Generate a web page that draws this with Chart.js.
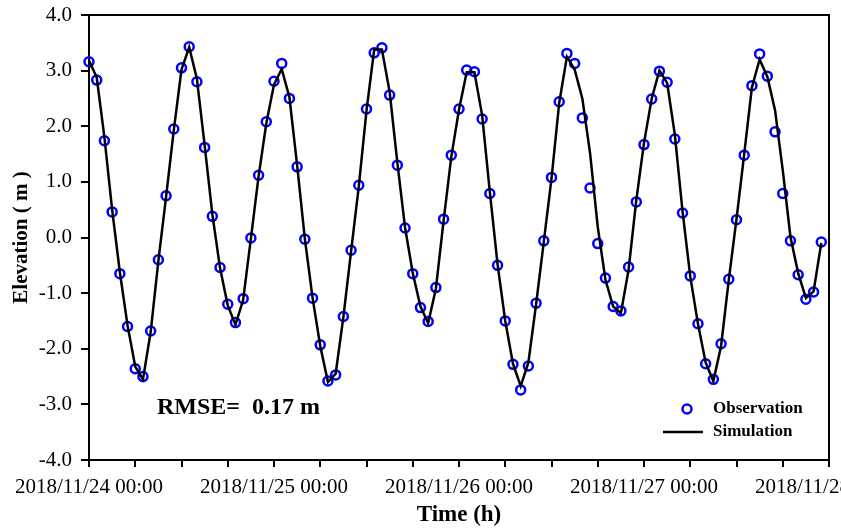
<!DOCTYPE html>
<html>
<head>
<meta charset="utf-8">
<script src="https://cdn.jsdelivr.net/npm/chart.js@4.4.1/dist/chart.umd.min.js"></script>
<style>
  body { margin: 0; background: #fff; }
  #wrap { width: 841px; height: 529px; }
</style>
</head>
<body>
<div id="wrap"><canvas id="myChart"></canvas></div>
<script>
// hourly data from 2018/11/24 00:00
let dayLabels = ['2018/11/24 00:00', '2018/11/25 00:00', '2018/11/26 00:00', '2018/11/27 00:00', '2018/11/28 00:00'];
let yTicks = [-4, -3, -2, -1, 0, 1, 2, 3, 4];

let observation = [
    3.16, 2.83, 1.74, 0.46, -0.65, -1.60, -2.36, -2.50, -1.68, -0.40,
    0.75, 1.95, 3.05, 3.43, 2.80, 1.62, 0.38, -0.54, -1.20, -1.53,
    -1.10, -0.01, 1.12, 2.08, 2.81, 3.13, 2.50, 1.27, -0.03, -1.09,
    -1.93, -2.58, -2.47, -1.42, -0.23, 0.94, 2.31, 3.32, 3.41, 2.56,
    1.30, 0.17, -0.65, -1.26, -1.51, -0.90, 0.33, 1.48, 2.31, 3.01,
    2.98, 2.13, 0.79, -0.50, -1.50, -2.28, -2.74, -2.31, -1.18, -0.06,
    1.08, 2.44, 3.31, 3.13, 2.15, 0.89, -0.11, -0.73, -1.24, -1.32,
    -0.53, 0.64, 1.67, 2.49, 2.99, 2.79, 1.77, 0.44, -0.69, -1.55,
    -2.27, -2.55, -1.91, -0.75, 0.32, 1.48, 2.73, 3.30, 2.90, 1.90,
    0.79, -0.06, -0.67, -1.11, -0.98, -0.08
];

let simulation = [
    3.18, 2.88, 1.80, 0.50, -0.62, -1.58, -2.32, -2.55, -1.70, -0.42,
    0.73, 1.93, 3.02, 3.42, 2.85, 1.66, 0.42, -0.55, -1.22, -1.57,
    -1.12, -0.02, 1.10, 2.05, 2.75, 3.03, 2.52, 1.30, -0.02, -1.08,
    -1.95, -2.60, -2.45, -1.43, -0.25, 0.92, 2.28, 3.38, 3.38, 2.62,
    1.35, 0.18, -0.64, -1.24, -1.54, -0.92, 0.30, 1.45, 2.30, 2.97,
    2.97, 2.20, 0.82, -0.48, -1.50, -2.27, -2.67, -2.25, -1.20, -0.08,
    1.06, 2.42, 3.25, 3.02, 2.50, 1.52, 0.19, -0.76, -1.24, -1.36,
    -0.58, 0.67, 1.70, 2.50, 3.00, 2.78, 1.85, 0.47, -0.70, -1.55,
    -2.25, -2.58, -1.95, -0.76, 0.33, 1.50, 2.70, 3.20, 2.89, 2.29,
    1.21, 0.01, -0.64, -1.09, -0.97, -0.10
];

let hours = observation.map((v, i) => i);

const serif = "'Liberation Serif', 'Times New Roman', serif";

// white background + frame box + legend + RMSE note
const extras = {
    id: 'extras',
    beforeDraw(chart) {
        const c = chart.ctx;
        c.save();
        c.fillStyle = '#fff';
        c.fillRect(0, 0, chart.width, chart.height);
        c.restore();
    },
    afterDraw(chart) {
        const c = chart.ctx;
        const a = chart.chartArea;
        c.save();
        c.strokeStyle = '#000';
        c.lineWidth = 2;
        c.beginPath();
        c.moveTo(a.left, a.top);
        c.lineTo(a.right, a.top);
        c.lineTo(a.right, a.bottom);
        c.stroke();

        // legend
        c.strokeStyle = 'rgb(0,0,255)';
        c.lineWidth = 2.5;
        c.beginPath();
        c.arc(687, 409, 4.5, 0, Math.PI * 2);
        c.stroke();
        c.strokeStyle = '#000';
        c.beginPath();
        c.moveTo(663, 432);
        c.lineTo(703, 432);
        c.stroke();
        c.fillStyle = '#000';
        c.font = 'bold 17px ' + serif;
        c.textBaseline = 'middle';
        c.textAlign = 'left';
        c.fillText('Observation', 713, 409);
        c.fillText('Simulation', 713, 432);

        c.font = 'bold 24px ' + serif;
        c.fillText('RMSE=  0.17 m', 157, 408);
        c.restore();
    }
};

var ctx = document.getElementById('myChart').getContext('2d');
var myChart = new Chart(ctx, {
    type: 'line',
    data: {
        datasets: [{
            label: 'Simulation',
            data: hours.map((h, i) => ({x: h, y: simulation[i]})),
            borderColor: '#000',
            borderWidth: 2.5,
            pointRadius: 0,
            tension: 0,
            clip: false,
            order: 0
        }, {
            label: 'Observation',
            data: hours.map((h, i) => ({x: h, y: observation[i]})),
            showLine: false,
            pointStyle: 'circle',
            pointRadius: 4.5,
            pointBorderWidth: 2.5,
            pointBorderColor: 'rgb(0,0,255)',
            pointBackgroundColor: 'rgba(0,0,0,0)',
            clip: false,
            order: 1
        }]
    },
    options: {
        responsive: true,
        maintainAspectRatio: false,
        animation: false,
        layout: { padding: { top: 15, right: 12, left: 0, bottom: 0 } },
        plugins: {
            legend: { display: false },
            tooltip: { enabled: false }
        },
        scales: {
            x: {
                type: 'linear',
                min: 0,
                max: 96,
                afterFit(s) { s.height = 69; s.paddingLeft = 0; s.paddingRight = 0; },
                ticks: {
                    stepSize: 6,
                    autoSkip: false,
                    maxRotation: 0,
                    minRotation: 0,
                    padding: 8,
                    color: '#000',
                    font: { family: serif, size: 21 },
                    callback: v => (v % 24 === 0 ? dayLabels[v / 24] : '')
                },
                grid: { drawOnChartArea: false, color: '#000', lineWidth: 2, tickLength: 7 },
                border: { color: '#000', width: 2 },
                title: {
                    display: true,
                    text: 'Time (h)',
                    color: '#000',
                    padding: { top: 0, bottom: 0 },
                    font: { family: serif, size: 23, weight: 'bold' }
                }
            },
            y: {
                min: -4,
                max: 4,
                afterFit(s) { s.width = 89; s.paddingTop = 0; s.paddingBottom = 0; },
                afterBuildTicks(s) { s.ticks = yTicks.map(v => ({value: v})); },
                ticks: {
                    padding: 9,
                    color: '#000',
                    font: { family: serif, size: 21 },
                    callback: v => Number(v).toFixed(1)
                },
                grid: { drawOnChartArea: false, color: '#000', lineWidth: 2, tickLength: 8 },
                border: { color: '#000', width: 2 },
                title: {
                    display: true,
                    text: 'Elevation ( m )',
                    color: '#000',
                    padding: { top: 9, bottom: 0 },
                    font: { family: serif, size: 21, weight: 'bold' }
                }
            }
        }
    },
    plugins: [extras]
});
</script>
</body>
</html>
